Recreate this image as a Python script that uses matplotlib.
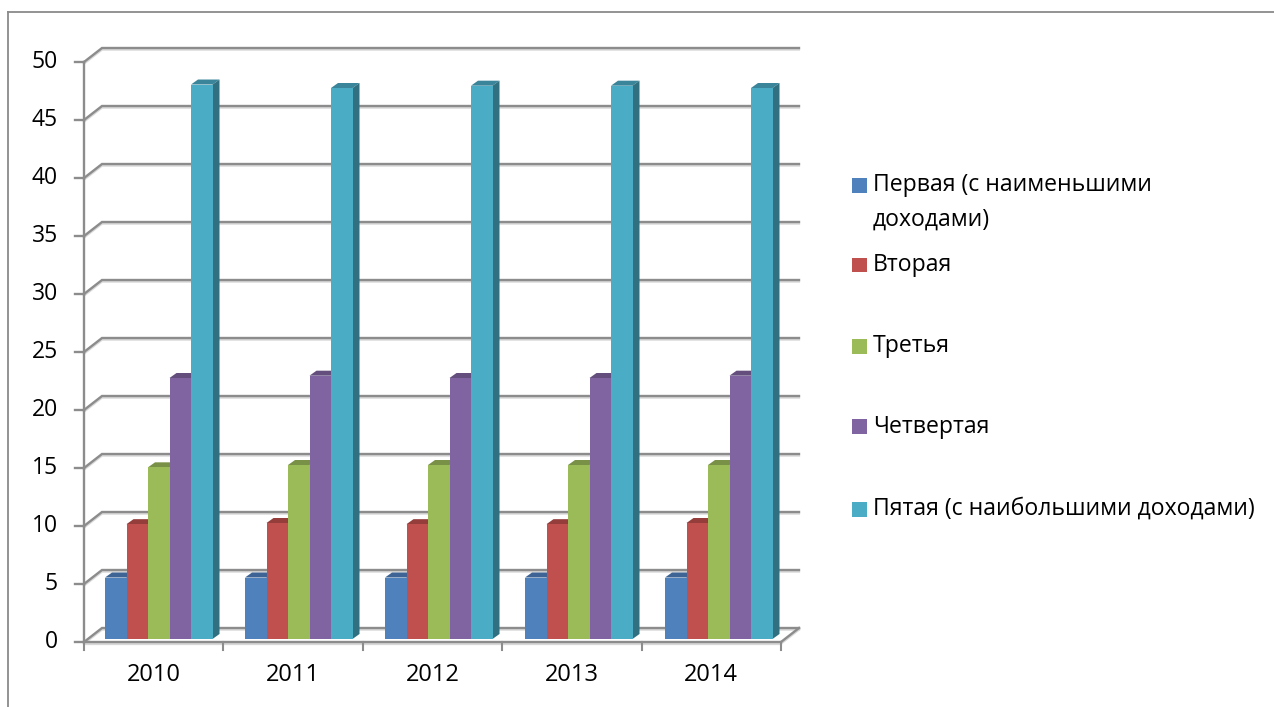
import matplotlib
matplotlib.use("Agg")
import matplotlib.pyplot as plt
from matplotlib.patches import Polygon, Rectangle
from matplotlib.lines import Line2D

plt.rcParams["font.family"] = ["Open Sans", "DejaVu Sans"]

W, H = 1274, 707

years = ["2010", "2011", "2012", "2013", "2014"]
names = ["Первая (с наименьшими\nдоходами)", "Вторая", "Третья", "Четвертая",
         "Пятая (с наибольшими доходами)"]
first = [5.3, 5.3, 5.3, 5.3, 5.3]
second = [9.9, 10.0, 9.9, 9.9, 10.0]
third = [14.8, 15.0, 15.0, 15.0, 15.0]
fourth = [22.5, 22.7, 22.5, 22.5, 22.7]
fifth = [47.8, 47.5, 47.7, 47.7, 47.5]
series = [first, second, third, fourth, fifth]

front = ["#4f81bd", "#c0504d", "#9bbb59", "#8064a2", "#4bacc6"]
top = ["#3d6494", "#953d3b", "#789146", "#634e7e", "#3a859a"]
side = ["#335480", "#7e3432", "#657a3b", "#53416a", "#317080"]
grey = "#8c8c8c"
shadow = "#d8d8d8"

fig = plt.figure(figsize=(W / 100, H / 100), dpi=100)
ax = fig.add_axes([84 / W, 1 - 642 / H, 697 / W, 580 / H])
ax.set_xlim(0, 5)
ax.set_ylim(0, 50)
ax.axis("off")

# pixels -> data units
ux = 5 / 697
uy = 50 / 580
dx, dy = 18 * ux, 14 * uy  # depth of the back wall
bx, by = 7 * ux, 5 * uy    # depth of a bar
base = 3 * uy
start = 21 * ux
step = 140 * ux
bw = 21.5 * ux


def wall_line(xs, ys):
    # grey line with the soft shadow just below it
    ax.plot(xs, [v - 1.6 * uy for v in ys], color=shadow, lw=1.6, clip_on=False,
            solid_joinstyle="miter", zorder=0.5)
    ax.plot(xs, ys, color=grey, lw=1.7, clip_on=False, solid_joinstyle="miter", zorder=1)


# only the top and left edges of the frame are visible
fig.add_artist(Line2D([8 / W, 8 / W], [0, 1 - 12 / H], color="#8a8a8a", lw=1.3))
fig.add_artist(Line2D([8 / W, 1], [1 - 12 / H, 1 - 12 / H], color="#8a8a8a", lw=1.3))

# walls and gridlines
for t in range(0, 55, 5):
    wall_line([0, dx, 5 + dx], [t, t + dy, t + dy])
    ax.plot([-9 * ux, 0], [t, t], color=grey, lw=1.7, clip_on=False, zorder=1)
    ax.text(-26 * ux, t, str(t), ha="right", va="center", fontsize=16.5, color="black")
ax.plot([0, 0], [0, 50], color=grey, lw=1.7, clip_on=False, zorder=1)
wall_line([0, 5], [0, 0])
wall_line([5, 5 + dx], [0, dy])
for i in range(6):
    ax.plot([i, i], [0, -8 * uy], color=grey, lw=1.5, clip_on=False, zorder=1)
for i, y in enumerate(years):
    ax.text(i + 0.5, -33 * uy, y, ha="center", va="center", fontsize=17, color="black")

# 3d bars
for i in range(len(years)):
    for j, vals in enumerate(series):
        x0 = start + i * step + j * bw
        v = vals[i]
        ax.add_patch(Polygon([(x0, base + v), (x0 + bx, base + v + by),
                              (x0 + bw + bx, base + v + by), (x0 + bw, base + v)],
                             fc=top[j], ec="none", zorder=2 + j))
        ax.add_patch(Polygon([(x0 + bw, base), (x0 + bw + bx, base + by),
                              (x0 + bw + bx, base + v + by), (x0 + bw, base + v)],
                             fc=side[j], ec="none", zorder=2 + j))
        ax.bar(x0, v, width=bw, bottom=base, align="edge", color=front[j], zorder=3 + j)

# legend
ys = [185, 265, 346, 427, 509]
for y, name, c in zip(ys, names, front):
    fig.add_artist(Rectangle((852 / W, 1 - (y + 7.5) / H), 15 / W, 15 / H, fc=c, ec="none",
                             transform=fig.transFigure))
    lines = name.split("\n")
    for k, line in enumerate(lines):
        fig.text(873 / W, 1 - (y + k * 35) / H, line, ha="left", va="center",
                 fontsize=16.6, color="black")

fig.savefig("out.png", dpi=100)
